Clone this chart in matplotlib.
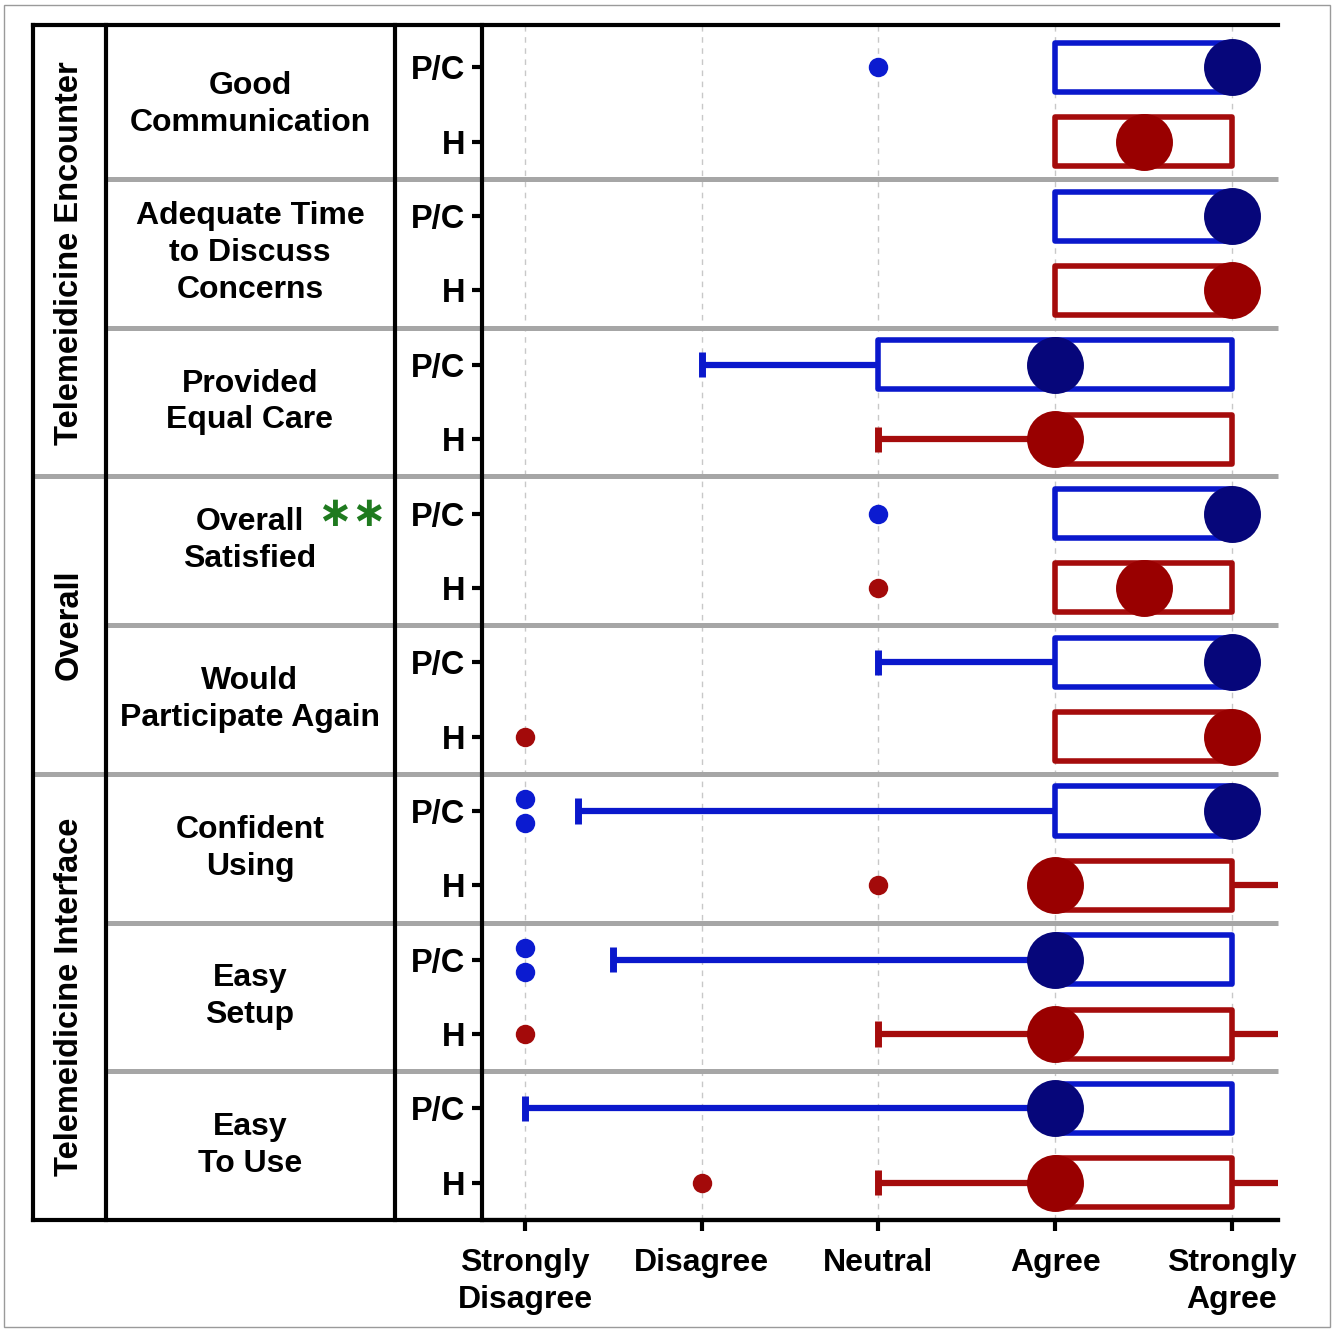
import matplotlib.pyplot as plt
from matplotlib.patches import Rectangle
import numpy as np

plt.rcParams['font.family'] = ['Liberation Sans', 'DejaVu Sans']
plt.rcParams['font.weight'] = 'bold'

# likert scale
scale_labels = ['Strongly\nDisagree', 'Disagree', 'Neutral', 'Agree', 'Strongly\nAgree']
scale_values = [1, 2, 3, 4, 5]

# questions (each has a P/C row and an H row)
questions = ['Good\nCommunication', 'Adequate Time\nto Discuss\nConcerns',
             'Provided\nEqual Care', 'Overall\nSatisfied', 'Would\nParticipate Again',
             'Confident\nUsing', 'Easy\nSetup', 'Easy\nTo Use']
sections = ['Telemeidicine Encounter', 'Overall', 'Telemeidicine Interface']
section_sizes = [3, 2, 3]
row_labels = ['P/C', 'H'] * 8

# box statistics, one entry per row (P/C, H, P/C, H, ...)
q1 = [4, 4, 4, 4, 3, 4, 4, 4, 4, 4, 4, 4, 4, 4, 4, 4]
q3 = [5, 5, 5, 5, 5, 5, 5, 5, 5, 5, 5, 5, 5, 5, 5, 5]
medians = [5, 4.5, 5, 5, 4, 4, 5, 4.5, 5, 5, 5, 4, 4, 4, 4, 4]
whisk_lo = [4, 4, 4, 4, 2, 3, 4, 4, 3, 4, 1.3, 4, 1.5, 3, 1, 3]
whisk_hi = [5, 5, 5, 5, 5, 5, 5, 5, 5, 5, 5, 5.5, 5, 5.5, 5, 5.5]
outliers = [[3], [], [], [], [], [], [3], [3], [], [1],
            [1, 1], [3], [1, 1], [1], [], [2]]

box_colors = ['#0a18cc', '#a50c0c']
median_colors = ['#06067a', '#990000']
flier_colors = ['#0b1bd0', '#a30a0a']

fig = plt.figure(figsize=(13.36, 13.31), dpi=100)
ax = fig.add_axes([482 / 1336, 1 - 1220 / 1331, 796 / 1336, 1195 / 1331])

ax.set_xlim(0.757, 5.26)
ax.set_ylim(16, -0.07)

n_rows = len(row_labels)
y_pos = np.arange(n_rows) + 0.5

for i in range(n_rows):
    c = i % 2
    y = y_pos[i]
    h = 0.66
    # whiskers
    if whisk_lo[i] < q1[i]:
        ax.plot([whisk_lo[i], q1[i]], [y, y], color=box_colors[c], lw=4.5,
                solid_capstyle='butt', zorder=3)
        ax.plot([whisk_lo[i], whisk_lo[i]], [y - 0.17, y + 0.17], color=box_colors[c],
                lw=5, solid_capstyle='butt', zorder=3)
    if whisk_hi[i] > q3[i]:
        ax.plot([q3[i], whisk_hi[i]], [y, y], color=box_colors[c], lw=4.5,
                solid_capstyle='butt', zorder=3)
    # box
    ax.add_patch(Rectangle((q1[i], y - h / 2), q3[i] - q1[i], h, facecolor='white',
                           edgecolor=box_colors[c], lw=4, joinstyle='round', zorder=4))
    # median
    ax.plot(medians[i], y, 'o', ms=41, color=median_colors[c], mec='none', zorder=5)
    # outliers
    pts = outliers[i]
    if len(pts) > 0:
        offs = np.linspace(-0.16, 0.16, len(pts)) if len(pts) > 1 else [0]
        for p, o in zip(pts, offs):
            ax.plot(p, y + o, 'o', ms=14, color=flier_colors[c], mec='none', zorder=5)

# axes styling
ax.set_xticks(scale_values)
ax.set_xticklabels(scale_labels, fontsize=23, fontweight='bold', linespacing=1.3)
ax.set_yticks(y_pos)
ax.set_yticklabels(row_labels, fontsize=23.5, fontweight='bold')
ax.tick_params(axis='x', length=8, width=3, pad=12)
ax.tick_params(axis='y', length=7, width=3, pad=5)
ax.xaxis.grid(True, color='#c8c8c8', lw=1, linestyle=(0, (4, 4)), zorder=0)
ax.set_axisbelow(True)
for s in ['top', 'right']:
    ax.spines[s].set_visible(False)
ax.spines['left'].set_linewidth(3)
ax.spines['bottom'].set_linewidth(3)

# the table on the left side
trans = ax.get_yaxis_transform()
x_outer, x_mid, x_inner = -0.5641, -0.4724, -0.1093
ytop, ybot = -0.07, 16

# gray separators
for k in range(2, 16, 2):
    x0 = x_outer if k in (6, 10) else x_mid
    ax.plot([x0, 1.0], [k, k], color='#a6a6a6', lw=3.6, transform=trans,
            clip_on=False, zorder=2, solid_capstyle='butt')

# black frame lines
ax.plot([x_outer, 1.0], [ytop, ytop], color='black', lw=3, transform=trans, clip_on=False)
ax.plot([x_outer, 1.0], [ybot, ybot], color='black', lw=3, transform=trans, clip_on=False)
for xv in [x_outer, x_mid, x_inner]:
    ax.plot([xv, xv], [ytop, ybot], color='black', lw=3, transform=trans, clip_on=False)

# question labels
for g, q in enumerate(questions):
    yc = 2 * g + 1
    if g == 3:
        yc -= 0.14
    ax.text(-0.2915, yc, q, transform=trans, ha='center', va='center', fontsize=23,
            fontweight='bold', linespacing=1.3)

ax.text(-0.1633, 6.5, '∗∗', transform=trans, ha='center', va='center', fontsize=30,
        color='#1f7a1f', family='DejaVu Sans')

# section labels
start = 0
for sec, n in zip(sections, section_sizes):
    yc = start * 2 + n
    ax.text(-0.5183, yc, sec, transform=trans, ha='center', va='center', rotation=90,
            fontsize=23.5, fontweight='bold')
    start += n

# thin frame around the figure
fig.patches.append(Rectangle((4 / 1336, 4 / 1331), 1326 / 1336, 1322 / 1331, fill=False,
                             edgecolor='#9a9a9a', lw=1, transform=fig.transFigure))

fig.savefig('out.png', dpi=100)
